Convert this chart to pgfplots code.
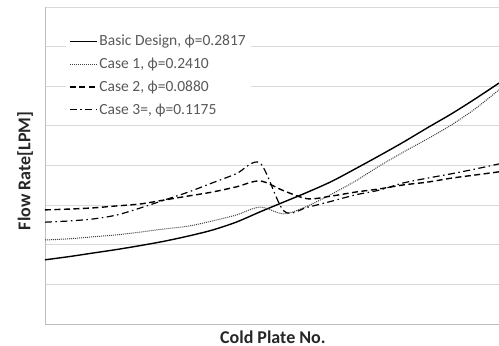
\documentclass[border=0pt]{standalone}
\usepackage{pgfplots}
\pgfplotsset{compat=1.18}
\usepackage{fontspec}
\setmainfont{Carlito}
\begin{document}
\begin{tikzpicture}
\begin{axis}[
 scale only axis, width=454bp, height=317bp,
 xmin=1, xmax=20, ymin=0, ymax=8,
 xtick=\empty, ytick={0,1,...,8}, yticklabels={}, major tick length=0pt,
 ymajorgrids, grid style={color=black!15, line width=0.8bp},
 axis x line*=bottom, axis y line*=left,
 axis line style={color=black!25, line width=0.8bp, -},
 xlabel={Cold Plate No.}, ylabel={Flow Rate[LPM]},
 label style={font=\fontsize{18bp}{20bp}\selectfont\bfseries, text=black!85},
 xlabel style={at={(axis description cs:0.502,-0.06)}, anchor=base},
 ylabel style={at={(axis description cs:-0.044,0.483)}, anchor=center},
 clip=false,
 legend style={draw=none, fill=white, at={(axis description cs:0.046,0.927)}, anchor=north west,
   font=\fontsize{15.5bp}{17bp}\selectfont, text=black!65, row sep=6.7bp, inner sep=3bp},
 legend cell align=left,
 legend image code/.code={\draw[#1] (0bp,0bp) -- (27bp,0bp);},
]
\coordinate (sw) at (rel axis cs:0,0);
\coordinate (ne) at (rel axis cs:1,1);
\addplot[black, line width=1.4bp, smooth, tension=0.5] coordinates {
(1,1.62)(2,1.70)(3,1.79)(4,1.88)(5,1.98)(6,2.09)(7,2.22)(8,2.37)(9,2.57)(10,2.83)
(11,3.08)(12,3.33)(13,3.60)(14,3.92)(15,4.25)(16,4.59)(17,4.95)(18,5.30)(19,5.68)(20,6.08)};
\addlegendentry{Basic Design, ϕ=0.2817}
\addplot[black!75, line width=1bp, dash pattern=on 1bp off 1bp, smooth, tension=0.5] coordinates {
(1,2.12)(2,2.15)(3,2.20)(4,2.25)(5,2.32)(6,2.40)(7,2.47)(8,2.60)(9,2.75)(10,2.95)
(11,2.78)(12,2.98)(13,3.28)(14,3.61)(15,3.99)(16,4.34)(17,4.67)(18,5.02)(19,5.43)(20,5.91)};
\addlegendentry{Case 1, ϕ=0.2410}
\addplot[black, line width=1.4bp, dash pattern=on 6bp off 3.5bp, smooth, tension=0.5] coordinates {
(1,2.88)(2,2.90)(3,2.93)(4,2.98)(5,3.03)(6,3.13)(7,3.23)(8,3.33)(9,3.46)(10,3.61)
(11,3.36)(12,3.16)(13,3.23)(14,3.33)(15,3.41)(16,3.51)(17,3.58)(18,3.68)(19,3.76)(20,3.84)};
\addlegendentry{Case 2, ϕ=0.0880}
\addplot[black, line width=1.2bp, dash pattern=on 7bp off 3.5bp on 1.5bp off 3.5bp, smooth, tension=0.5] coordinates {
(1,2.57)(2,2.60)(3,2.65)(4,2.75)(5,2.93)(6,3.13)(7,3.33)(8,3.56)(9,3.79)(10,4.06)
(11,2.85)(12,2.95)(13,3.10)(14,3.26)(15,3.38)(16,3.56)(17,3.68)(18,3.79)(19,3.91)(20,4.04)};
\addlegendentry{Case 3=, ϕ=0.1175}
\end{axis}
\pgfresetboundingbox
\path[use as bounding box] ([xshift=-45bp,yshift=-22bp]sw) rectangle ([yshift=7bp]ne);
\end{tikzpicture}
\end{document}
